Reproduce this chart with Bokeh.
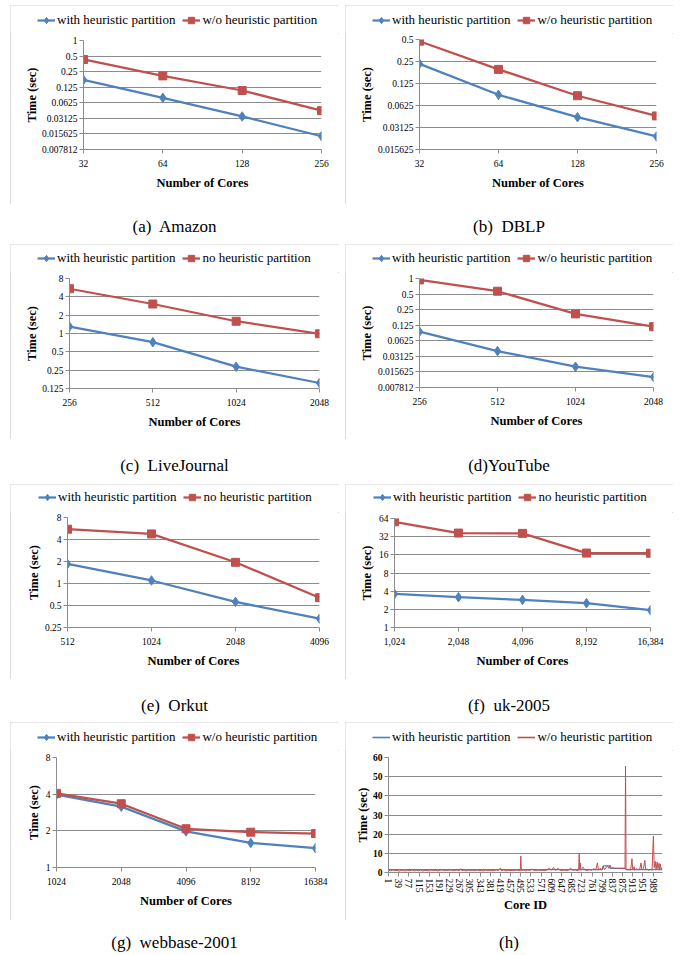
from bokeh.plotting import figure
from bokeh.layouts import column, row
from bokeh.models import (Range1d, FixedTicker, Legend, LegendItem, Div, Spacer)
from bokeh.embed import file_html
from bokeh.resources import INLINE

# ---------------- data ----------------
amazon_cores = ["32", "64", "128", "256"]
amazon_with = [0.173, 0.078, 0.034, 0.0141]
amazon_without = [0.43, 0.207, 0.108, 0.044]
amazon_yticks = ["1", "0.5", "0.25", "0.125", "0.0625", "0.03125", "0.015625", "0.007812"]

dblp_cores = ["32", "64", "128", "256"]
dblp_with = [0.232, 0.0875, 0.0433, 0.0236]
dblp_without = [0.474, 0.195, 0.085, 0.045]
dblp_yticks = ["0.5", "0.25", "0.125", "0.0625", "0.03125", "0.015625"]

lj_cores = ["256", "512", "1024", "2048"]
lj_with = [1.30, 0.72, 0.285, 0.154]
lj_without = [5.43, 3.05, 1.59, 0.99]
lj_yticks = ["8", "4", "2", "1", "0.5", "0.25", "0.125"]

yt_cores = ["256", "512", "1024", "2048"]
yt_with = [0.094, 0.0396, 0.0197, 0.0124]
yt_without = [0.94, 0.568, 0.207, 0.117]
yt_yticks = ["1", "0.5", "0.25", "0.125", "0.0625", "0.03125", "0.015625", "0.007812"]

orkut_cores = ["512", "1024", "2048", "4096"]
orkut_with = [1.85, 1.10, 0.56, 0.33]
orkut_without = [5.53, 4.77, 1.95, 0.64]
orkut_yticks = ["8", "4", "2", "1", "0.5", "0.25"]

uk_cores = ["1,024", "2,048", "4,096", "8,192", "16,384"]
uk_with = [3.6, 3.18, 2.87, 2.53, 1.94]
uk_without = [56.3, 36.7, 36.3, 17.1, 17.0]
uk_yticks = ["64", "32", "16", "8", "4", "2", "1"]

wb_cores = ["1024", "2048", "4096", "8192", "16384"]
wb_with = [3.96, 3.16, 1.98, 1.59, 1.44]
wb_without = [4.06, 3.34, 2.08, 1.95, 1.90]
wb_yticks = ["8", "4", "2", "1"]

# per-core times (uk-2005, 1024 cores)
core_id_ticks = [1, 39, 77, 115, 153, 191, 229, 267, 305, 343, 381, 419, 457, 495,
                 533, 571, 609, 647, 685, 723, 761, 799, 837, 875, 913, 951, 989]
core_time_ticks = [0, 10, 20, 30, 40, 50, 60]

core_with_id = [1, 120, 260, 400, 520, 660, 800, 803, 826, 829, 884, 888, 1018, 1024]
core_with_time = [1.5, 1.5, 1.5, 1.5, 1.5, 1.5, 1.5, 3.5, 3.5, 2.2, 2.2, 1.5, 1.5, 2.6]

core_without_id = [
    1, 9, 17, 25, 33, 41, 49, 57, 65, 73, 81, 89, 97, 105, 113, 121, 129, 137, 145,
    153, 161, 169, 177, 185, 193, 201, 209, 217, 225, 233, 241, 249, 257, 265, 271,
    275, 283, 291, 299, 307, 315, 323, 331, 339, 347, 355, 363, 371, 379, 387, 395,
    403, 411, 419, 423, 431, 439, 447, 455, 463, 471, 479, 487, 493, 495, 497, 505,
    513, 521, 529, 537, 545, 553, 561, 569, 577, 585, 593, 601, 609, 617, 625, 633,
    641, 649, 657, 665, 673, 681, 689, 697, 705, 711, 713, 715, 717, 719, 727, 735,
    743, 751, 759, 767, 775, 781, 785, 791, 797, 803, 807, 813, 819, 823, 829, 833,
    837, 845, 853, 861, 869, 877, 884, 886, 888, 893, 899, 905, 910, 913, 918, 921,
    927, 933, 939, 944, 947, 953, 958, 961, 967, 973, 979, 985, 990, 993, 997, 1000,
    1004, 1007, 1011, 1013, 1016, 1018, 1020, 1024]
core_without_time = [
    1.2, 0.8, 1.3, 0.9, 1.1, 0.7, 1.3, 1.0, 0.8, 1.2, 0.9, 1.4, 0.8, 1.1, 0.9, 1.3, 0.7, 1.2, 1.0,
    0.8, 1.3, 1.0, 1.2, 0.8, 1.1, 1.5, 0.9, 1.2, 1.0, 1.4, 0.9, 1.1, 1.3, 0.9, 2.0,
    1.0, 1.2, 0.8, 1.3, 1.0, 1.2, 0.9, 1.4, 1.0, 1.1, 0.8, 1.3, 1.0, 1.2, 0.9, 1.1,
    1.4, 1.0, 2.3, 1.0, 1.3, 0.8, 1.2, 1.0, 1.1, 0.9, 1.3, 1.0, 0.9, 8.6, 1.1, 1.3,
    0.9, 1.4, 1.0, 1.8, 1.1, 0.9, 1.3, 1.0, 1.2, 0.9, 1.4, 2.3, 1.2, 2.6, 1.1, 2.2,
    1.3, 1.0, 1.4, 0.9, 1.2, 2.3, 1.1, 1.5, 1.0, 1.2, 9.8, 1.4, 5.0, 1.2, 2.8, 1.3,
    1.0, 1.5, 1.2, 2.0, 1.3, 5.0, 1.2, 2.2, 1.4, 3.2, 1.5, 2.5, 3.5, 2.2, 3.8, 2.0,
    2.5, 2.2, 2.2, 2.2, 2.2, 2.2, 2.2, 55.5, 2.2, 1.3, 1.8, 1.2, 7.2, 1.5, 3.0, 1.2,
    2.0, 1.4, 1.8, 5.0, 1.3, 2.2, 6.4, 1.5, 1.8, 1.2, 1.6, 1.3, 19.0, 2.5, 5.8, 1.5,
    5.5, 2.0, 4.8, 1.5, 4.5, 2.2, 1.3, 1.8]

captions = ["(a)&nbsp; Amazon", "(b)&nbsp; DBLP", "(c)&nbsp; LiveJournal", "(d)YouTube",
            "(e)&nbsp; Orkut", "(f)&nbsp; uk-2005", "(g)&nbsp; webbase-2001", "(h)"]

# ---------------- styling ----------------
BLUE = "#4F81BD"
RED = "#C0504D"
GRID = "#8C8C8C"
FRAME = "#D0D0D0"
SERIF = "Liberation Serif"
TICK_PX = 9.5
W_LEFT, W_RIGHT = 329, 328          # box widths of the two columns
LEG_H = 28                          # height of the legend strip at the top of a box
TITLE_RIGHT = {"L": 33, "R": 31}    # right edge of the rotated y title inside a box


def label_width(labels, px):
    adv = {".": 0.25, ",": 0.25}
    return max(sum(adv.get(c, 0.5) for c in s) for s in labels) * px


def make_fig(w, box_h, frame, **kw):
    """Chart below the legend strip; frame is (left, right, top, bottom) in box pixels."""
    L, R, T, B = frame
    h = box_h - LEG_H
    p = figure(width=w, height=h, output_backend="svg", toolbar_location=None,
               min_border_left=L, min_border_right=w - R,
               min_border_top=T - LEG_H, min_border_bottom=h - (B - LEG_H),
               frame_align=False, **kw)
    p.outline_line_color = None
    p.background_fill_color = "white"
    p.border_fill_color = "white"
    p.xgrid.visible = False
    p.ygrid.grid_line_color = GRID
    p.ygrid.grid_line_width = 1
    for ax in p.axis:
        ax.axis_line_color = GRID
        ax.major_tick_line_color = GRID
        ax.major_tick_out = 4
        ax.major_tick_in = 0
        ax.minor_tick_line_color = None
        ax.major_label_text_font = SERIF
        ax.major_label_text_font_size = f"{TICK_PX}px"
        ax.major_label_text_color = "black"
        ax.axis_label_text_font = SERIF
        ax.axis_label_text_font_style = "bold"
        ax.axis_label_text_font_size = "12.5px"
        ax.axis_label_text_color = "black"
    p.yaxis.major_label_standoff = 2
    p.xaxis.major_label_standoff = 6
    p.xaxis.axis_label_standoff = 6
    p.yaxis.axis_label = "Time (sec)"
    return p


def set_ytitle(p, frame, ytick_labels, side):
    L = frame[0]
    w = label_width(ytick_labels, TICK_PX)
    p.yaxis.axis_label_standoff = max(0, int(round(L - 6 - w - TITLE_RIGHT[side])))


def legend_strip(w, entries, lx, cy, gh=16):
    """Horizontal legend drawn in its own strip; entries are (label, width, color, marker, size)."""
    q = figure(width=w, height=LEG_H, output_backend="svg", toolbar_location=None,
               min_border=0, x_axis_location=None, y_axis_location=None,
               x_range=Range1d(0, 1), y_range=Range1d(0, 1), frame_align=False)
    q.outline_line_color = None
    q.background_fill_color = "white"
    q.border_fill_color = "white"
    q.grid.visible = False
    items = []
    for label, lw, color, marker, msize in entries:
        # a single sample kept outside the strip's visible range
        rs = [q.line(x=[-5, -4], y=[-5, -5], line_color=color, line_width=lw)]
        if marker:
            rs.append(q.scatter(x=[-5], y=[-5], marker=marker, size=msize,
                                fill_color=color, line_color=color))
        items.append(LegendItem(label=label, renderers=rs))
    leg = Legend(items=items, orientation="horizontal",
                 location=(lx, LEG_H - cy - gh / 2),
                 glyph_width=18, glyph_height=gh, label_height=gh,
                 label_standoff=2, spacing=7, padding=0, margin=0,
                 border_line_color=None, background_fill_alpha=0,
                 label_text_font=SERIF, label_text_font_size="13px",
                 label_text_color="black")
    q.add_layout(leg)
    return q


def boxed(strip, chart):
    return column(strip, chart,
                  styles={"outline": f"1.5px solid {FRAME}", "outline-offset": "-1.5px"})


def log_panel(cores, with_v, without_v, yticks, without_label, w, box_h, frame,
              legend_pos, side):
    tick_vals = [float(s) for s in yticks]
    n = len(cores)
    xs = list(range(n))
    p = make_fig(w, box_h, frame, y_axis_type="log",
                 x_range=Range1d(0, n - 1),
                 y_range=Range1d(min(tick_vals), max(tick_vals)))
    p.yaxis.ticker = FixedTicker(ticks=tick_vals)
    p.yaxis.major_label_overrides = {v: s for v, s in zip(tick_vals, yticks)}
    p.xaxis.ticker = FixedTicker(ticks=xs)
    p.xaxis.major_label_overrides = {i: s for i, s in zip(xs, cores)}
    p.xaxis.axis_label = "Number of Cores"

    p.line(xs, with_v, line_color=BLUE, line_width=2.25)
    p.scatter(xs, with_v, marker="diamond", size=9.5, fill_color=BLUE, line_color=BLUE)
    p.line(xs, without_v, line_color=RED, line_width=2.25)
    p.scatter(xs, without_v, marker="square", size=8, fill_color=RED, line_color=RED)
    set_ytitle(p, frame, yticks, side)

    strip = legend_strip(w, [("with heuristic partition", 2.25, BLUE, "diamond", 9),
                             (without_label, 2.25, RED, "square", 7.5)], *legend_pos)
    return boxed(strip, p)


pa = log_panel(amazon_cores, amazon_with, amazon_without, amazon_yticks,
               "w/o heuristic partition", W_LEFT, 199, (73, 311, 35, 144), (27, 15), "L")
pb = log_panel(dblp_cores, dblp_with, dblp_without, dblp_yticks,
               "w/o heuristic partition", W_RIGHT, 199, (74, 311, 34, 144), (27, 15), "R")
pc = log_panel(lj_cores, lj_with, lj_without, lj_yticks,
               "no heuristic partition", W_LEFT, 195, (59, 309, 34, 144), (27, 14), "L")
pd = log_panel(yt_cores, yt_with, yt_without, yt_yticks,
               "w/o heuristic partition", W_RIGHT, 195, (74, 308, 34, 143), (27, 14), "R")
pe = log_panel(orkut_cores, orkut_with, orkut_without, orkut_yticks,
               "no heuristic partition", W_LEFT, 195, (57, 309, 33, 143), (28, 13), "L")
pf = log_panel(uk_cores, uk_with, uk_without, uk_yticks,
               "no heuristic partition", W_RIGHT, 195, (49, 305, 34, 143), (28, 13), "R")
pg = log_panel(wb_cores, wb_with, wb_without, wb_yticks,
               "w/o heuristic partition", W_LEFT, 198, (46, 305, 35, 145), (27, 15), "L")

# per-core time panel
frame_h = (43, 317, 35, 150)
ph_chart = make_fig(W_RIGHT, 198, frame_h,
                    x_range=Range1d(1, 1024),
                    y_range=Range1d(min(core_time_ticks), max(core_time_ticks)))
ph_chart.yaxis.ticker = FixedTicker(ticks=core_time_ticks)
ph_chart.yaxis.major_label_text_font_style = "bold"
ph_chart.xaxis.ticker = FixedTicker(ticks=core_id_ticks)
ph_chart.xaxis.major_label_orientation = "vertical"
ph_chart.xaxis.major_label_standoff = 2
ph_chart.xaxis.axis_label_standoff = 2
ph_chart.xaxis.axis_label = "Core ID"
ph_chart.line(core_with_id, core_with_time, line_color=BLUE, line_width=1.2)
ph_chart.line(core_without_id, core_without_time, line_color=RED, line_width=1)
set_ytitle(ph_chart, frame_h, [str(v) for v in core_time_ticks], "R")
ph = boxed(legend_strip(W_RIGHT, [("with heuristic partition", 1.6, BLUE, None, 0),
                                  ("w/o heuristic partition", 1.6, RED, None, 0)], 27, 15),
           ph_chart)


def caption_row(left_text, right_text, h, pad):
    def cap(text, w):
        html = (f'<div style="width:{w}px;text-align:center;padding-top:{pad}px;'
                f'line-height:20px;font-family:\'{SERIF}\';font-size:17px;color:black;">'
                f'{text}</div>')
        return Div(text=html, width=w, height=h, margin=0)
    return row(Spacer(width=10, height=h), cap(left_text, W_LEFT), Spacer(width=6, height=h),
               cap(right_text, W_RIGHT), Spacer(width=8, height=h))


def chart_row(left, right, h):
    return row(Spacer(width=10, height=h), left, Spacer(width=6, height=h), right,
               Spacer(width=8, height=h))


layout = column(
    Spacer(width=681, height=5),
    chart_row(pa, pb, 199), caption_row(captions[0], captions[1], 40, 13),
    chart_row(pc, pd, 195), caption_row(captions[2], captions[3], 45, 17),
    chart_row(pe, pf, 195), caption_row(captions[4], captions[5], 43, 17),
    chart_row(pg, ph, 198), caption_row(captions[6], captions[7], 35, 13),
)
open("out.html", "w").write(file_html(layout, INLINE))
